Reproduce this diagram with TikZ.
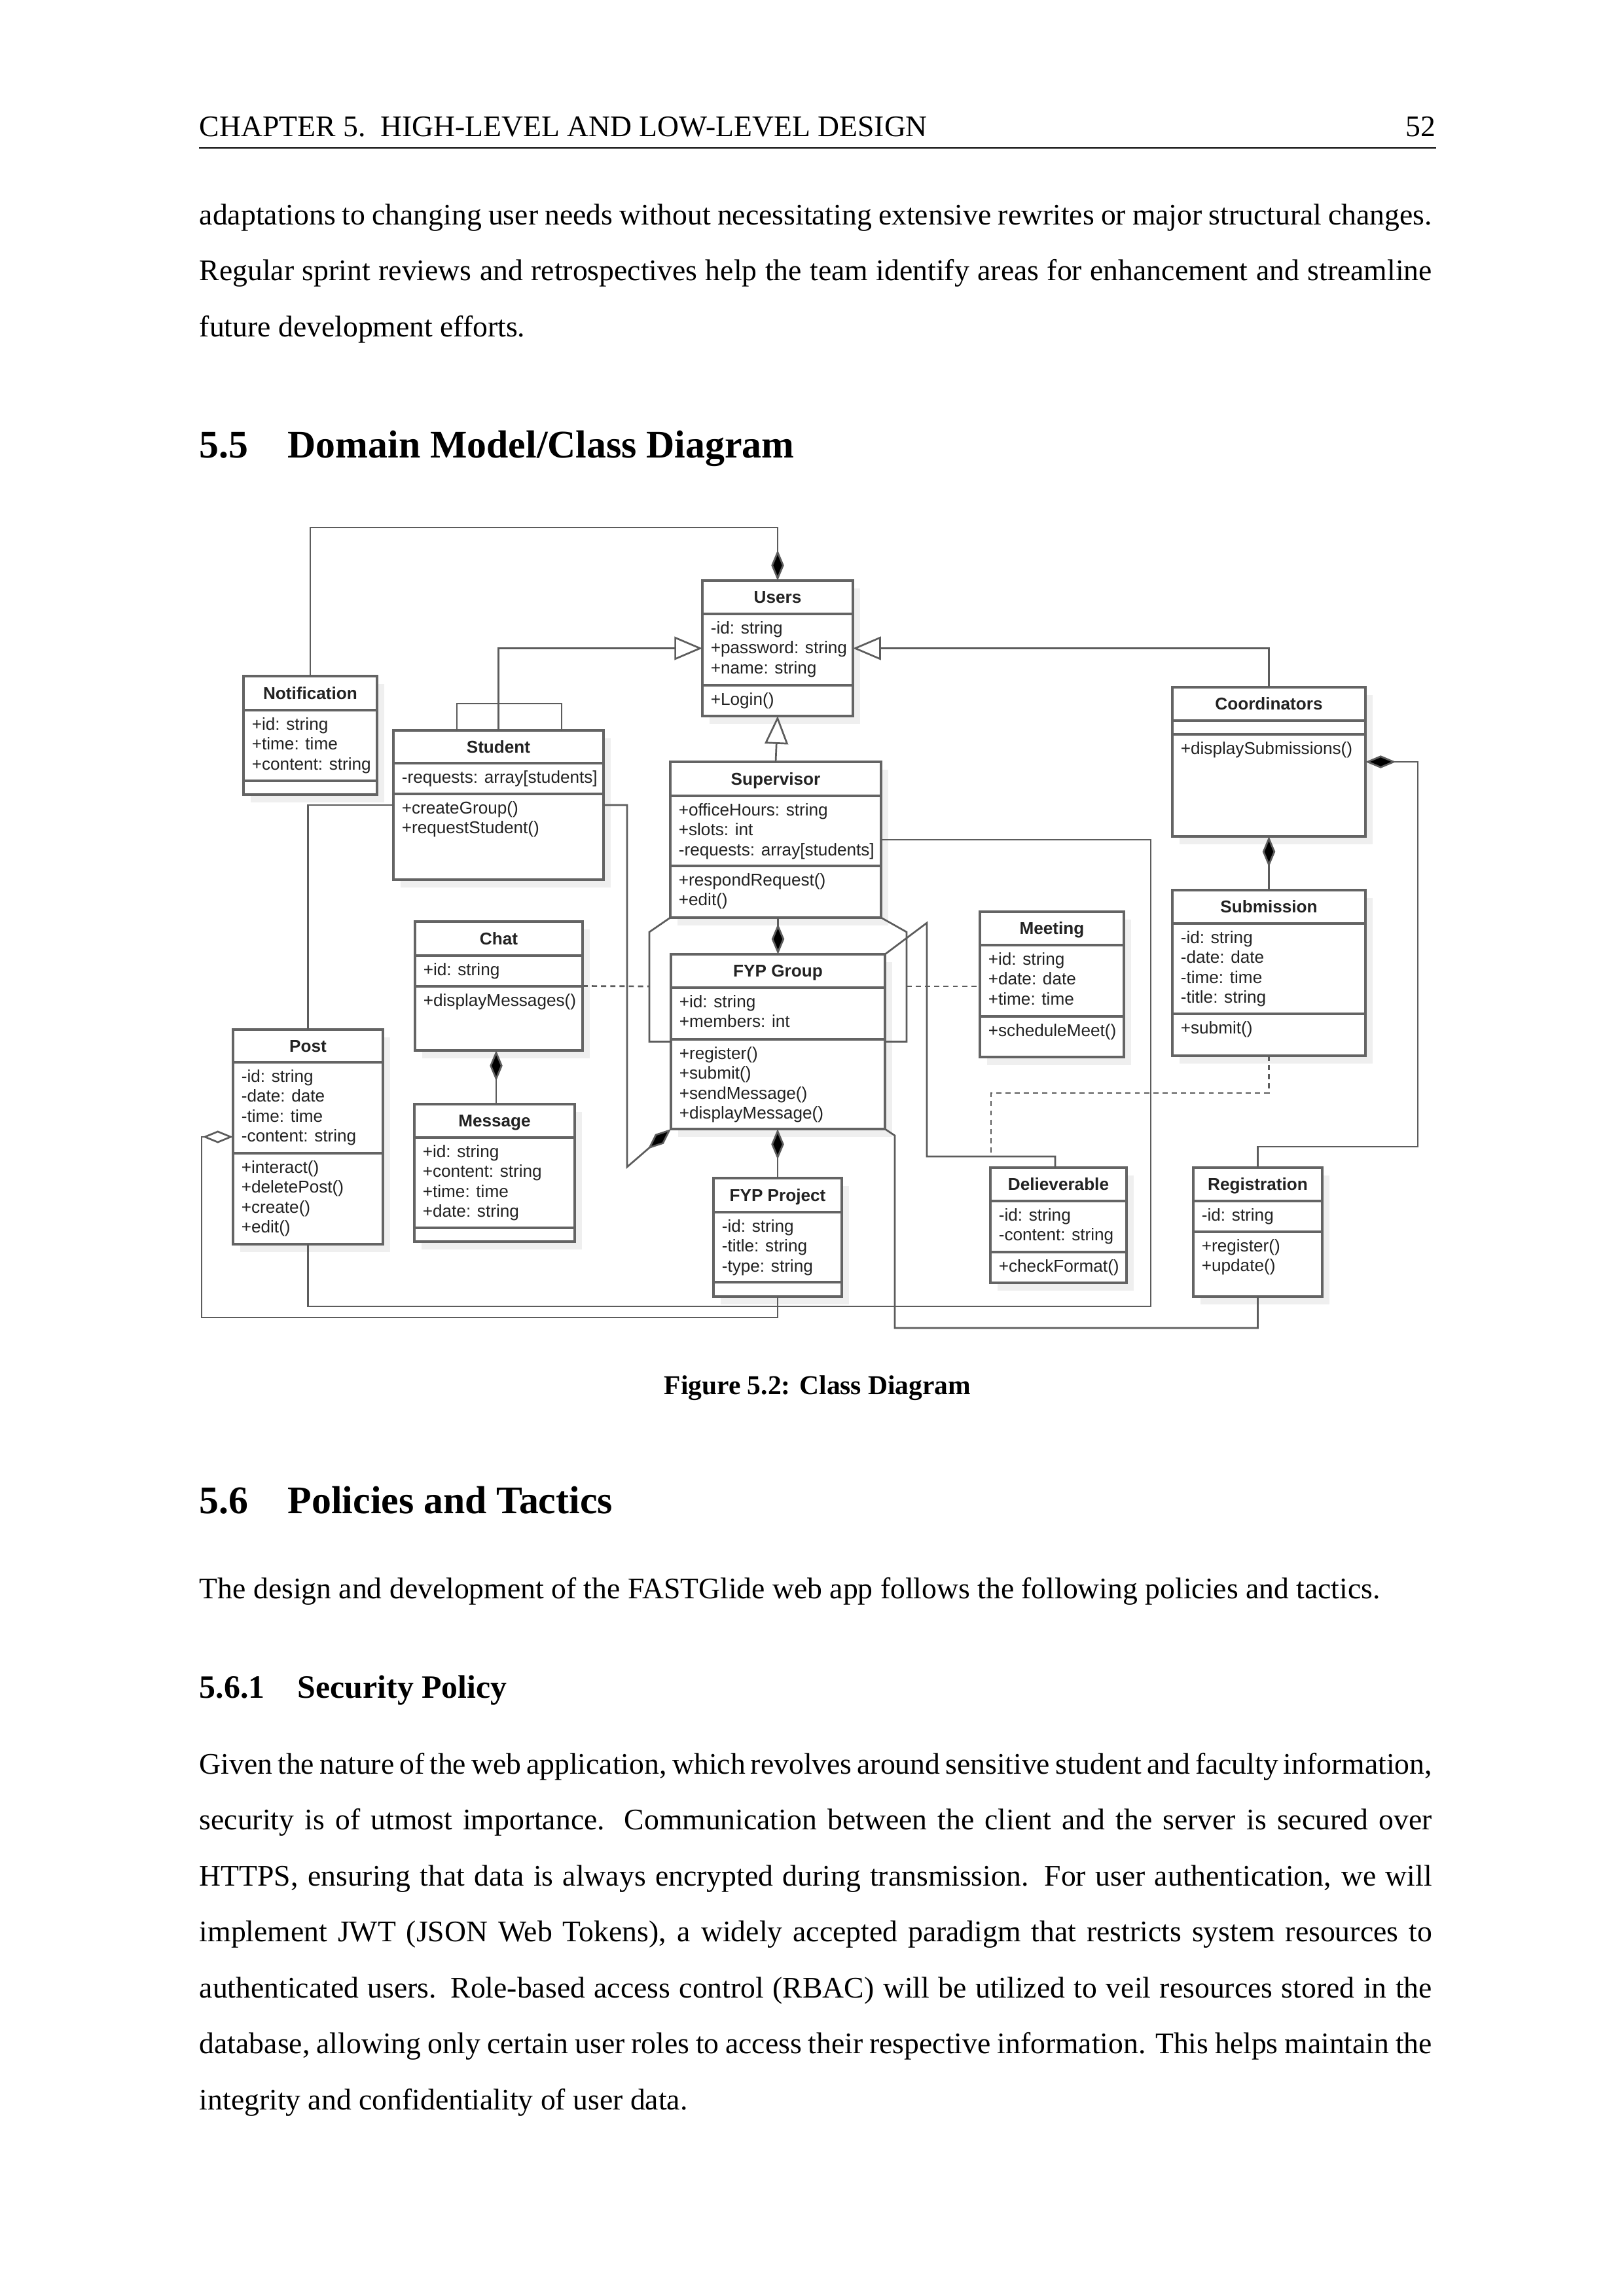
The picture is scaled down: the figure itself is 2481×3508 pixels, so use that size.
\documentclass[tikz,border=0pt]{standalone}
\usepackage{fontspec}
\setmainfont{Liberation Serif}
\newfontfamily\diagfont{Liberation Sans}[Ligatures=NoCommon]
\usetikzlibrary{arrows.meta,fit}
\definecolor{boxc}{HTML}{646464}
\definecolor{linec}{HTML}{5C5C5C}
\definecolor{shadc}{HTML}{EFEFEF}
\definecolor{txtc}{HTML}{222222}
\tikzset{
 classbox/.style={draw=boxc, line width=0.8pt, inner sep=0pt, outer sep=0pt, fill=white},
 sepline/.style={draw=boxc, line width=0.8pt},
 conn/.style={draw=linec, line width=0.65pt},
 dotconn/.style={conn, dash pattern=on 1.9pt off 1.5pt},
 ctitle/.style={font=\diagfont\bfseries\fontsize{6.3}{7.4}\selectfont, text=txtc, inner sep=0pt, anchor=base},
 ctext/.style={font=\diagfont\fontsize{6.3}{7.4}\selectfont, text=txtc, inner sep=0pt, anchor=base west},
 gen/.style={-{Triangle[open,length=10.3pt,width=8.6pt,fill=white]}},
 comp/.style={-{Diamond[length=11.2pt,width=4.7pt,fill=black]}},
 aggr/.style={-{Diamond[open,length=11.2pt,width=4.6pt,fill=white]}},
 body/.style={font=\fontsize{11}{13.6}\selectfont, inner sep=0pt, anchor=base west},
 sect/.style={font=\fontsize{14.4}{17}\selectfont\bfseries, inner sep=0pt, anchor=base west},
 subsect/.style={font=\fontsize{12}{14.5}\selectfont\bfseries, inner sep=0pt, anchor=base west},
}
% name, x1, y1, x2, y2, title, sep1, sep2
\newcommand\umlclass[8]{%
  \fill[shadc] (#2+11,#3+12) rectangle (#4+11,#5+12);
  \node[classbox, fit={(#2,#3) (#4,#5)}] (#1) {};
  \draw[sepline] (#2,#7) -- (#4,#7);
  \draw[sepline] (#2,#8) -- (#4,#8);
  \node[ctitle] (#1-t) at ({(#2+#4)/2},{(#3+#7)/2+9}) {#6};
}
% name prefix, x1 of box, first baseline, list
\newcommand\umllines[4]{%
  \foreach \tx [count=\i from 0] in {#4} {\node[ctext] (#1-\i) at (#2+12,#3+30.5*\i) {\tx};}
}
\begin{document}
\begin{tikzpicture}[x=0.0846667mm, y=-0.0846667mm]
\fill[white] (0,0) rectangle (2481,3508);
\useasboundingbox (0,0) rectangle (2481,3508);

% ---------- page header ----------
\node[body] (hdr) at (304,208) {CHAPTER 5.\ \ HIGH-LEVEL AND LOW-LEVEL DESIGN};
\node[body, anchor=base east] (pnum) at (2194,208) {52};
\draw[line width=0.4pt] (304,226) -- (2194,226);

% ---------- text above ----------
\node[body] (p1) at (304,343) {\makebox[453.6pt][s]{adaptations to changing user needs without necessitating extensive rewrites or major structural changes.}};
\node[body] (p2) at (304,428.5) {\makebox[453.6pt][s]{Regular sprint reviews and retrospectives help the team identify areas for enhancement and streamline}};
\node[body] (p3) at (304,514) {future development efforts.};

\node[sect] (s55n) at (304,699) {5.5};
\node[sect] (s55) at (439,699) {Domain Model/Class Diagram};

% ---------- classes ----------
\umlclass{notif}{372}{1033}{576}{1214}{Notification}{1085}{1193}
\umllines{notifa}{372}{1115}{+id: string,+time: time,+content: string}

\umlclass{student}{601}{1116}{922}{1344}{Student}{1166}{1213}
\umllines{studenta}{601}{1196}{-requests: array[students]}
\umllines{studento}{601}{1243}{+createGroup(),+requestStudent()}

\umlclass{users}{1073}{887}{1303}{1094}{Users}{938}{1047}
\umllines{usersa}{1073}{968}{-id: string,+password: string,+name: string}
\umllines{userso}{1073}{1077}{+Login()}

\umlclass{superv}{1024}{1164}{1346}{1402}{Supervisor}{1216}{1323}
\umllines{superva}{1024}{1246}{+officeHours: string,+slots: int,-requests: array[students]}
\umllines{supervo}{1024}{1353}{+respondRequest(),+edit()}

\umlclass{coord}{1791}{1050}{2086}{1278}{Coordinators}{1101}{1122}
\umllines{coordo}{1791}{1152}{+displaySubmissions()}

\umlclass{subm}{1791}{1360}{2086}{1613}{Submission}{1411}{1549}
\umllines{subma}{1791}{1441}{-id: string,-date: date,-time: time,-title: string}
\umllines{submo}{1791}{1579}{+submit()}

\umlclass{meet}{1497}{1393}{1717}{1615}{Meeting}{1444}{1553}
\umllines{meeta}{1497}{1474}{+id: string,+date: date,+time: time}
\umllines{meeto}{1497}{1583}{+scheduleMeet()}

\umlclass{chat}{634}{1408}{890}{1605}{Chat}{1460}{1507}
\umllines{chata}{634}{1490}{+id: string}
\umllines{chato}{634}{1537}{+displayMessages()}

\umlclass{fypg}{1025}{1458}{1352}{1725}{FYP Group}{1509}{1588}
\umllines{fypga}{1025}{1539}{+id: string,+members: int}
\umllines{fypgo}{1025}{1618}{+register(),+submit(),+sendMessage(),+displayMessage()}

\umlclass{post}{356}{1573}{585}{1901}{Post}{1623}{1762}
\umllines{posta}{356}{1653}{-id: string,-date: date,-time: time,-content: string}
\umllines{posto}{356}{1792}{+interact(),+deletePost(),+create(),+edit()}

\umlclass{msg}{633}{1687}{878}{1897}{Message}{1738}{1876}
\umllines{msga}{633}{1768}{+id: string,+content: string,+time: time,+date: string}

\umlclass{fypp}{1090}{1800}{1286}{1981}{FYP Project}{1852}{1959}
\umllines{fyppa}{1090}{1882}{-id: string,-title: string,-type: string}

\umlclass{deliv}{1513}{1784}{1721}{1960}{Delieverable}{1835}{1913}
\umllines{deliva}{1513}{1865}{-id: string,-content: string}
\umllines{delivo}{1513}{1943}{+checkFormat()}

\umlclass{reg}{1823}{1784}{2020}{1981}{Registration}{1835}{1882}
\umllines{rega}{1823}{1865}{-id: string}
\umllines{rego}{1823}{1912}{+register(),+update()}

% ---------- connectors ----------
\coordinate (ntop) at (1188,806);
\draw[conn, comp] (notif.north) |- (ntop) -- (users.north);
\draw[conn, gen] (student.north) |- (users.west);
\draw[conn, gen] (coord.north) |- (users.east);
\draw[conn, gen] (superv.north) -- (users.south);
\draw[conn] (698,0 |- student.north) |- (858,1075) -- (858,0 |- student.north);
\draw[conn] (student.west) -| (post.north);
\draw[conn, comp] (student.east) -| (958,1783) -- (fypg.south west);
\draw[conn] (post.south) |- (1758,1996) |- (superv.east);
\draw[conn, aggr] (fypp.south) |- (308,2013) |- (post.west);
\draw[conn, comp] (msg.north -| 758,0) -- (758,0 |- chat.south);
\draw[conn, comp] (fypg.north |- superv.south) -- (fypg.north);
\draw[conn, comp] (fypp.north) -- (fypp.north |- fypg.south);
\draw[conn, comp] (subm.north) -- (subm.north |- coord.south);
\draw[conn, comp] (reg.north) |- (2166,1752) |- (coord.east);
\draw[conn] (reg.south) |- (1367,2029) -- (1367,1735) -- (fypg.south east);
\draw[conn] (deliv.north -| 1612,0) |- (1416,1767) -- (1416,1410) -- (fypg.north east);
\draw[conn] (superv.south west) -- (992,1424) |- (fypg.west);
\draw[conn] (superv.south east) -- (1385,1424) |- (fypg.east);
\coordinate (dotL) at (992,1507);
\coordinate (dotR) at (1385,1507);
\draw[dotconn] (chat.east) -- (dotL);
\draw[dotconn] (dotR) -- (dotR -| meet.west);
\coordinate (dotD) at (1514,1767);
\draw[dotconn] (subm.south) |- (1514,1670) -- (dotD);

% ---------- caption and text below ----------
\node[font=\fontsize{10}{12}\selectfont\bfseries, inner sep=0pt, anchor=base] (cap) at (1249,2130) {Figure 5.2: Class Diagram};

\node[sect] (s56n) at (304,2312) {5.6};
\node[sect] (s56) at (439,2312) {Policies and Tactics};
\node[body] (q1) at (304,2442) {The design and development of the FASTGlide web app follows the following policies and tactics.};

\node[subsect] (s561n) at (304,2594) {5.6.1};
\node[subsect] (s561) at (454,2594) {Security Policy};

\node[body] (r1) at (304,2710) {\makebox[453.6pt][s]{Given the nature of the web application, which revolves around sensitive student and faculty information,}};
\node[body] (r2) at (304,2795.5) {\makebox[453.6pt][s]{security is of utmost importance.  Communication between the client and the server is secured over}};
\node[body] (r3) at (304,2881) {\makebox[453.6pt][s]{HTTPS, ensuring that data is always encrypted during transmission.  For user authentication, we will}};
\node[body] (r4) at (304,2966.5) {\makebox[453.6pt][s]{implement JWT (JSON Web Tokens), a widely accepted paradigm that restricts system resources to}};
\node[body] (r5) at (304,3052) {\makebox[453.6pt][s]{authenticated users.  Role-based access control (RBAC) will be utilized to veil resources stored in the}};
\node[body] (r6) at (304,3137.5) {\makebox[453.6pt][s]{database, allowing only certain user roles to access their respective information. This helps maintain the}};
\node[body] (r7) at (304,3223) {integrity and confidentiality of user data.};
\end{tikzpicture}
\end{document}
